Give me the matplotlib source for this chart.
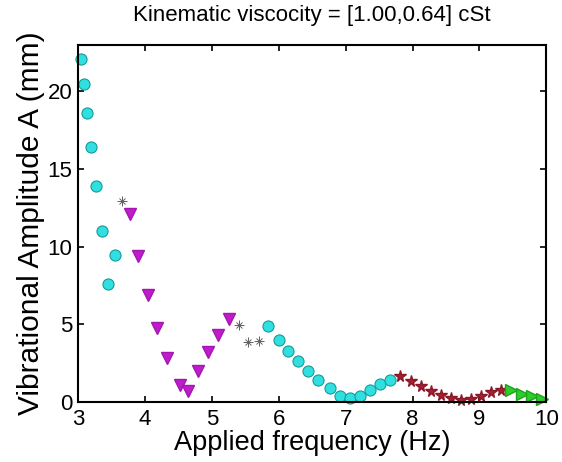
import matplotlib.pyplot as plt

# cyan circles (two branches)
cyan_f1 = [3.05, 3.09, 3.14, 3.20, 3.27, 3.35, 3.45, 3.55]
cyan_a1 = [22.1, 20.5, 18.6, 16.4, 13.9, 11.0, 7.6, 9.45]
cyan_f2 = [5.84, 6.00, 6.14, 6.29, 6.44, 6.59, 6.77, 6.92, 7.06, 7.21, 7.36, 7.51, 7.67]
cyan_a2 = [4.88, 3.97, 3.26, 2.62, 1.97, 1.44, 0.90, 0.41, 0.23, 0.41, 0.80, 1.14, 1.44]

# magenta down-triangles
mag_f = [3.77, 3.89, 4.04, 4.18, 4.33, 4.53, 4.64, 4.79, 4.94, 5.09, 5.25]
mag_a = [12.08, 9.4, 6.9, 4.75, 2.85, 1.12, 0.68, 2.0, 3.2, 4.28, 5.35]

# grey asterisks
ast_f = [3.65, 5.40, 5.54, 5.70]
ast_a = [12.95, 4.94, 3.87, 3.91]

# dark red stars
red_f = [7.81, 7.97, 8.12, 8.27, 8.42, 8.57, 8.72, 8.87, 9.02, 9.18, 9.33]
red_a = [1.70, 1.33, 1.01, 0.73, 0.47, 0.26, 0.15, 0.19, 0.36, 0.62, 0.79]

# green right-triangles
grn_f = [9.48, 9.63, 9.78, 9.93]
grn_a = [0.75, 0.54, 0.36, 0.19]

plt.rcParams['font.family'] = ['Liberation Sans', 'DejaVu Sans']

fig = plt.figure(figsize=(5.62, 4.62), dpi=100)
ax = fig.add_axes([0.139, 0.130, 0.833, 0.773])

ax.plot(cyan_f1, cyan_a1, 'o', color='#30e0e0', mec='#1a9a9a', ms=8, mew=0.8, ls='none', clip_on=False)
ax.plot(cyan_f2, cyan_a2, 'o', color='#30e0e0', mec='#1a9a9a', ms=8, mew=0.8, ls='none', clip_on=False)
ax.plot(mag_f, mag_a, 'v', color='#c01ccc', mec='#a018b0', ms=9, ls='none', clip_on=False)
ax.plot(ast_f, ast_a, '+', color='#606060', ms=7, mew=0.7, ls='none', clip_on=False)
ax.plot(ast_f, ast_a, 'x', color='#606060', ms=5, mew=0.7, ls='none', clip_on=False)
ax.plot(red_f, red_a, '*', color='#a52030', mec='#8a1828', ms=8.5, ls='none', clip_on=False)
ax.plot(grn_f, grn_a, '>', color='#2ccc2c', mec='#20a020', ms=8, ls='none', clip_on=False)

ax.set_xlim(3, 10)
ax.set_ylim(0, 23)
ax.set_xticks(range(3, 11))
ax.set_yticks([0, 5, 10, 15, 20])
ax.tick_params(direction='in', top=True, right=True, labelsize=16, length=4, width=1.2, pad=4)
ax.tick_params(axis='x', pad=5)
for s in ax.spines.values():
    s.set_linewidth(1.5)

ax.set_xlabel('Applied frequency (Hz)', fontsize=19.5, labelpad=0)
ax.set_ylabel('Vibrational Amplitude A (mm)', fontsize=21.5, labelpad=2)
ax.set_title('Kinematic viscocity = [1.00,0.64] cSt', fontsize=16, pad=17)

fig.savefig('out.png', dpi=100)
